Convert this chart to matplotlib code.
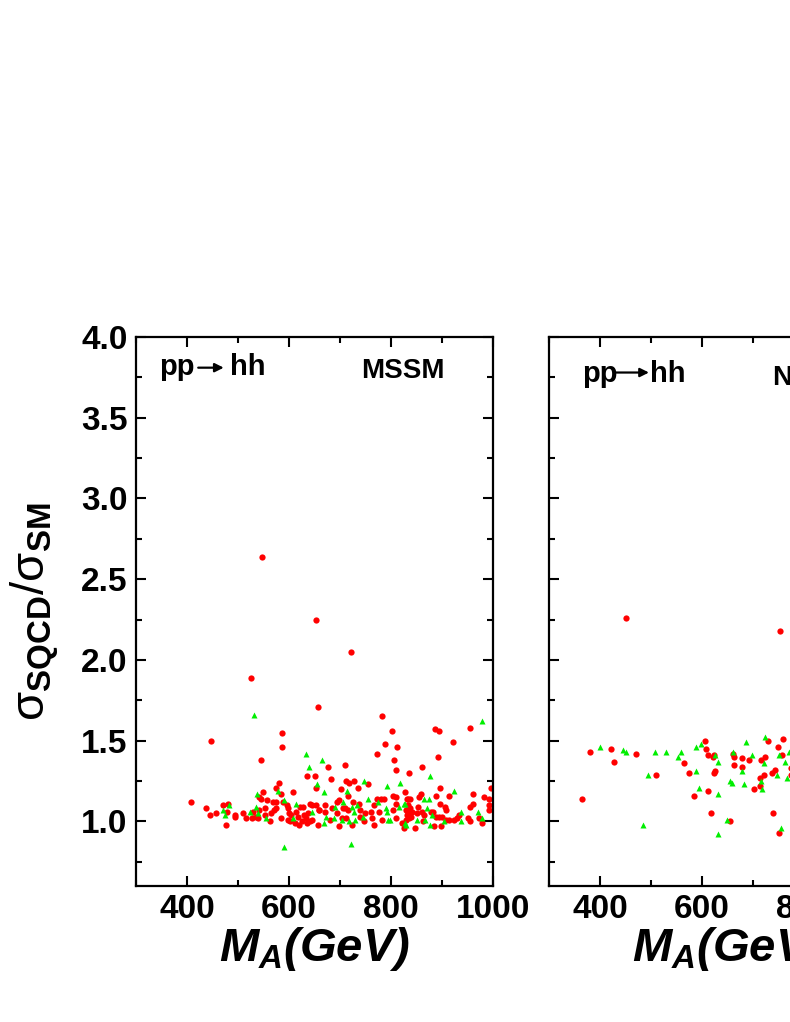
import matplotlib
matplotlib.use('Agg')
import matplotlib.pyplot as plt
from matplotlib.ticker import MultipleLocator

plt.rcParams['font.family'] = ['Liberation Sans', 'DejaVu Sans']
plt.rcParams['font.weight'] = 'bold'
plt.rcParams['mathtext.fontset'] = 'custom'
plt.rcParams['mathtext.rm'] = 'Liberation Sans:bold'
plt.rcParams['mathtext.it'] = 'Liberation Sans:italic:bold'
plt.rcParams['mathtext.bf'] = 'Liberation Sans:bold'

# MSSM panel, red circles
mssm_red_ma = [448, 408, 438, 445, 456, 470, 480, 478, 476, 547, 652, 722, 525, 656, 587,
               586, 545, 635, 650, 652, 581, 575, 549, 585, 607, 541, 546, 556, 568, 575,
               588, 597, 621, 628, 641, 645, 553, 574, 599, 658, 570, 529, 541, 509, 553,
               565, 600, 614, 630, 637, 494, 495, 515, 527, 536, 540, 585, 598, 602, 611,
               620, 625, 635, 642, 563, 656, 604, 617, 633, 646, 782, 801, 788, 812, 772,
               805, 709, 677, 809, 835, 683, 711, 718, 727, 755, 736, 701, 716, 828, 803,
               772, 780, 786, 810, 832, 694, 699, 726, 738, 810, 766, 671, 684, 652, 659,
               710, 705, 716, 739, 804, 829, 761, 777, 670, 695, 749, 832, 681, 703, 711,
               739, 762, 782, 809, 829, 699, 723, 748, 767, 821, 825, 887, 895, 954, 922,
               892, 860, 897, 997, 914, 961, 858, 855, 888, 983, 992, 833, 837, 961, 897,
               905, 993, 955, 852, 838, 833, 908, 993, 882, 878, 842, 861, 833, 850, 934,
               865, 889, 900, 895, 840, 973, 835, 908, 914, 923, 929, 863, 951, 955, 978,
               884, 899, 848]
mssm_red_r = [1.50, 1.12, 1.08, 1.04, 1.05, 1.10, 1.11, 1.06, 0.98, 2.64, 2.25, 2.05, 1.89, 1.71, 1.55,
              1.46, 1.38, 1.28, 1.28, 1.21, 1.24, 1.21, 1.18, 1.17, 1.18, 1.15, 1.14, 1.13, 1.12, 1.12,
              1.12, 1.10, 1.09, 1.09, 1.11, 1.10, 1.08, 1.08, 1.08, 1.07, 1.07, 1.06, 1.07, 1.05, 1.04,
              1.05, 1.05, 1.06, 1.04, 1.05, 1.04, 1.03, 1.02, 1.02, 1.03, 1.02, 1.02, 1.01, 1.00, 0.99,
              0.98, 1.00, 0.99, 1.00, 1.00, 0.98, 1.04, 1.03, 1.02, 1.01, 1.65, 1.56, 1.48, 1.46, 1.42,
              1.38, 1.35, 1.34, 1.32, 1.30, 1.26, 1.25, 1.24, 1.25, 1.23, 1.21, 1.20, 1.16, 1.18, 1.16,
              1.14, 1.14, 1.14, 1.15, 1.14, 1.12, 1.13, 1.12, 1.11, 1.11, 1.10, 1.10, 1.08, 1.10, 1.07,
              1.08, 1.08, 1.07, 1.07, 1.07, 1.07, 1.06, 1.06, 1.06, 1.05, 1.05, 1.04, 1.01, 1.02, 1.02,
              1.03, 1.02, 1.01, 1.02, 1.01, 0.97, 0.98, 1.00, 0.98, 0.99, 0.96, 1.57, 1.56, 1.58, 1.49,
              1.40, 1.34, 1.21, 1.21, 1.16, 1.17, 1.17, 1.15, 1.16, 1.15, 1.14, 1.14, 1.14, 1.11, 1.11,
              1.09, 1.10, 1.09, 1.09, 1.08, 1.10, 1.07, 1.07, 1.06, 1.06, 1.06, 1.06, 1.05, 1.05, 1.04,
              1.04, 1.03, 1.03, 1.03, 1.03, 1.02, 1.02, 1.01, 1.01, 1.01, 1.02, 1.00, 1.02, 1.00, 0.99,
              0.97, 0.97, 0.96]

# MSSM panel, green triangles
mssm_green_ma = [482, 470, 474, 531, 633, 639, 654, 579, 537, 591, 613, 536, 646, 523, 540,
                 555, 607, 590, 665, 747, 793, 818, 669, 713, 755, 774, 706, 825, 733, 723,
                 691, 728, 790, 815, 792, 673, 688, 746, 730, 703, 718, 795, 799, 668, 828,
                 722, 978, 876, 924, 865, 874, 827, 870, 970, 937, 881, 979, 850, 866, 904,
                 938, 830, 876]
mssm_green_r = [1.10, 1.07, 1.04, 1.66, 1.42, 1.34, 1.23, 1.19, 1.17, 1.13, 1.11, 1.09, 1.06, 1.06, 1.05,
                1.02, 1.02, 0.84, 1.38, 1.25, 1.22, 1.24, 1.18, 1.19, 1.14, 1.12, 1.12, 1.11, 1.10, 1.09,
                1.09, 1.06, 1.08, 1.09, 1.06, 1.03, 1.02, 1.03, 1.01, 1.01, 1.00, 1.01, 1.01, 0.99, 0.99,
                0.86, 1.62, 1.28, 1.19, 1.14, 1.14, 1.11, 1.08, 1.06, 1.06, 1.04, 1.02, 1.01, 1.01, 1.00,
                1.00, 0.98, 0.98]

# NMSSM panel, red circles
nmssm_red_ma = [380, 421, 428, 470, 510, 364, 450, 753, 605, 730, 759, 749, 607, 565, 611,
                622, 574, 585, 612, 617, 655, 624, 623, 626, 661, 662, 662, 679, 679, 693,
                702, 713, 713, 716, 724, 721, 738, 743, 740, 750, 757, 774, 775, 780]
nmssm_red_r = [1.43, 1.45, 1.37, 1.42, 1.29, 1.14, 2.26, 2.18, 1.50, 1.50, 1.51, 1.46, 1.45, 1.36, 1.41,
               1.40, 1.30, 1.16, 1.19, 1.05, 1.00, 1.41, 1.30, 1.31, 1.42, 1.40, 1.35, 1.39, 1.34, 1.38,
               1.20, 1.27, 1.22, 1.38, 1.40, 1.29, 1.30, 1.32, 1.05, 0.93, 1.41, 1.33, 1.29, 1.36]

# NMSSM panel, green triangles
nmssm_green_ma = [400, 445, 451, 507, 529, 494, 484, 724, 687, 598, 589, 771, 553, 558, 631,
                  589, 594, 632, 649, 632, 626, 655, 658, 661, 679, 683, 699, 716, 718, 722,
                  747, 754, 751, 762, 766]
nmssm_green_r = [1.46, 1.44, 1.43, 1.43, 1.43, 1.29, 0.98, 1.52, 1.49, 1.48, 1.46, 1.43, 1.40, 1.43, 1.37,
                 1.31, 1.21, 1.17, 1.01, 0.92, 1.41, 1.25, 1.24, 1.43, 1.31, 1.23, 1.41, 1.25, 1.20, 1.36,
                 1.29, 0.96, 1.41, 1.37, 1.27]

x_ticks = [400, 600, 800, 1000]
y_ticks = [1.0, 1.5, 2.0, 2.5, 3.0, 3.5, 4.0]


def style_axes(ax, show_ylabels):
    ax.set_xlim(300, 1000)
    ax.set_ylim(0.6, 4.0)
    ax.set_xticks(x_ticks)
    ax.set_xticklabels([str(t) for t in x_ticks])
    ax.set_yticks(y_ticks)
    ax.xaxis.set_minor_locator(MultipleLocator(100))
    ax.yaxis.set_minor_locator(MultipleLocator(0.25))
    ax.tick_params(which='both', direction='in', top=True, right=True,
                   labelsize=24, width=1.5, pad=6)
    ax.tick_params(which='major', length=7)
    ax.tick_params(which='minor', length=4)
    if not show_ylabels:
        ax.tick_params(labelleft=False)
    else:
        ax.set_yticklabels(['%.1f' % t for t in y_ticks])
    for sp in ax.spines.values():
        sp.set_linewidth(1.6)
    ax.set_xlabel('$M_A$(GeV)', fontsize=34, fontstyle='italic',
                  fontweight='bold', labelpad=0)


def draw_points(ax, red_x, red_y, green_x, green_y):
    ax.plot(red_x, red_y, linestyle='none', marker='o', ms=4.5,
            color='#ff0000', mec='none')
    ax.plot(green_x, green_y, linestyle='none', marker='^', ms=5,
            color='#00ee00', mec='none')


def process_label(ax, x_pp, x_a0, x_a1, x_hh, y_txt, y_arrow):
    ax.text(x_pp, y_txt, 'pp', fontsize=21, fontweight='bold')
    ax.annotate('', xy=(x_a1, y_arrow), xytext=(x_a0, y_arrow),
                arrowprops=dict(arrowstyle='-|>', lw=1.6, color='black',
                                mutation_scale=13, shrinkA=0, shrinkB=0))
    ax.text(x_hh, y_txt, 'hh', fontsize=21, fontweight='bold')


fig = plt.figure(figsize=(7.9, 10.22), dpi=100)
ax1 = fig.add_axes([136 / 790, 136 / 1022, 357 / 790, 549 / 1022])
ax2 = fig.add_axes([549 / 790, 136 / 1022, 357 / 790, 549 / 1022])

draw_points(ax1, mssm_red_ma, mssm_red_r, mssm_green_ma, mssm_green_r)
draw_points(ax2, nmssm_red_ma, nmssm_red_r, nmssm_green_ma, nmssm_green_r)

style_axes(ax1, True)
style_axes(ax2, False)

ax1.set_ylabel('σ$_{\\mathrm{SQCD}}$/σ$_{\\mathrm{SM}}$', fontsize=34, labelpad=14)

process_label(ax1, 345, 422, 472, 484, 3.765, 3.81)
process_label(ax2, 364, 431, 496, 498, 3.723, 3.78)
ax1.text(823, 3.745, 'MSSM', fontsize=20, fontweight='bold', ha='center')
ax2.text(737, 3.70, 'NMSSM', fontsize=20, fontweight='bold')

plt.savefig('out.png', dpi=100)
